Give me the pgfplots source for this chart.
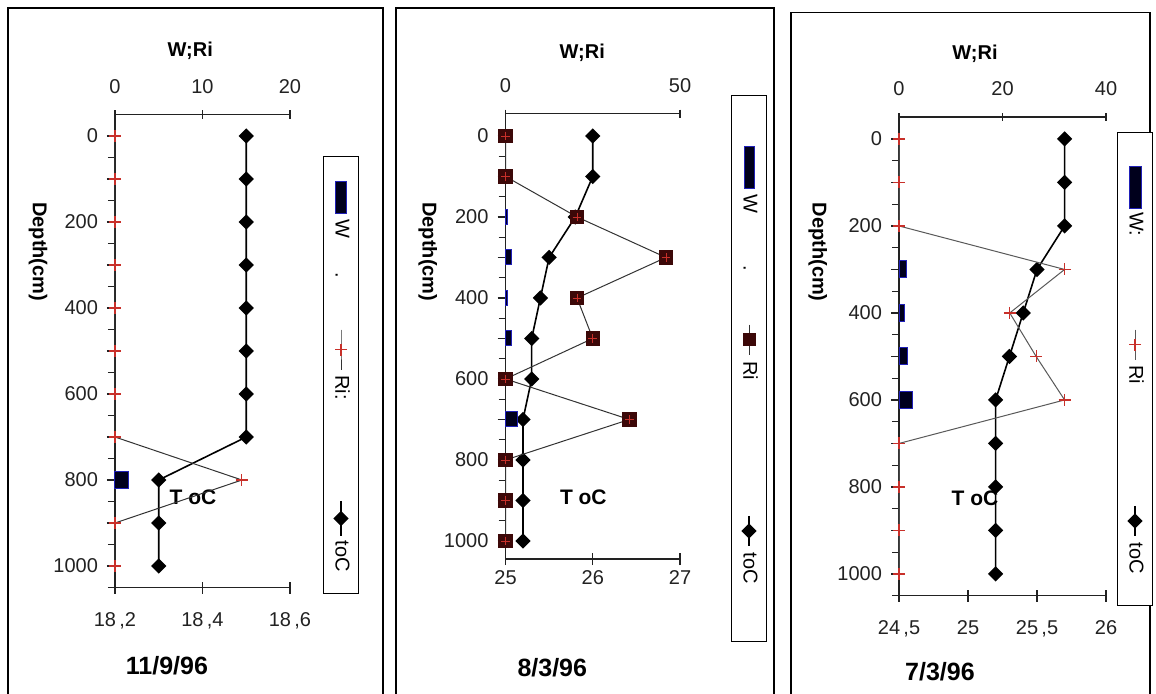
\documentclass[border=0pt]{standalone}
\usepackage{pgfplots}
\pgfplotsset{compat=1.18}
\usepackage{fontspec}
\setmainfont{Liberation Sans}
\definecolor{wfill}{HTML}{00001C}
\definecolor{wdraw}{HTML}{2020B8}
\definecolor{rired}{HTML}{C8302A}
\definecolor{sqfill}{HTML}{3C0808}
\definecolor{lgray}{HTML}{333333}
\definecolor{axc}{HTML}{222222}

\pgfplotsset{
  base/.style={
    scale only axis, y dir=reverse, clip=false,
    axis line style={-, line width=0.75pt, axc},
    /pgf/number format/assume math mode=true,
    tick label style={font=\fontsize{10}{12}\selectfont, text=axc},
    every tick/.style={axc, line width=0.6pt},
  },
  wri/.style={base,
    axis x line*=top, axis y line*=left,
    xtick align=center, ytick align=outside,
    major tick length=4pt, minor tick length=3.5pt,
    ytick={0,100,...,1000},
    yticklabels={0,,200,,400,,600,,800,,1000},
    minor ytick={50,150,...,1050},
    xticklabel style={yshift=5pt},
    yticklabel style={xshift=-1pt},
    ylabel={Depth(cm)},
    ylabel style={rotate=180, font=\bfseries\fontsize{10}{12}\selectfont, anchor=center},
    xlabel={W;Ri},
    xlabel style={font=\bfseries\fontsize{10}{12}\selectfont, anchor=center},
    legend columns=-1,
    legend cell align=left,
    legend style={draw=black, line width=0.6pt, inner ysep=4.4pt,
      nodes={inner sep=0pt}, font=\fontsize{10}{12}\selectfont},
  },
  tc/.style={base,
    axis x line*=bottom, axis y line=none,
    tick align=center, major tick length=6pt,
    xlabel={T oC},
    xlabel style={font=\bfseries\fontsize{10.5}{12}\selectfont, anchor=center},
  },
  linelegend/.style={legend image code/.code={\draw[mark repeat=2,mark phase=2] plot coordinates {(0pt,0pt) ({#1/2},0pt) (#1,0pt)};}},
  barlegend/.style 2 args={legend image code/.code={\draw[fill=wfill,draw=wdraw,line width=0.5pt] (0pt,{-#2/2}) rectangle (#1,{#2/2});}},
}

\begin{document}
\begin{tikzpicture}
\useasboundingbox (0pt,0pt) rectangle (578pt,-347pt);
\fill[white] (0pt,0pt) rectangle (578pt,-347pt);
% panel frames
\draw[line width=0.9pt, black] (4pt,-4pt) rectangle (191.5pt,-360pt);
\draw[line width=0.9pt, black] (198pt,-4pt) rectangle (387pt,-360pt);
\draw[line width=0.9pt, black] (395.5pt,-6.25pt) rectangle (575pt,-360pt);

% ================= temperature axes (bottom) =================
\begin{axis}[tc, at={(57.5pt,-57.25pt)}, anchor=north west,
  width=87.5pt, height=236.5pt, ymin=-50, ymax=1050,
  xmin=18.2, xmax=18.6, xtick={18.2,18.4,18.6},
  xticklabels={{18\,,2},{18\,,4},{18\,,6}},
  xticklabel style={yshift=-6pt},
  xlabel style={at={(axis description cs:0.446,0.19)}}]
\addplot[black, line width=0.8pt, mark=square*, mark size=2.3pt, mark options={rotate=45}]
  coordinates {(18.5,0)(18.5,100)(18.5,200)(18.5,300)(18.5,400)(18.5,500)(18.5,600)(18.5,700)(18.3,800)(18.3,900)(18.3,1000)};
\node[font=\bfseries\fontsize{12.5}{14}\selectfont] at (axis description cs:0.297,-0.166) {11/9/96};
\end{axis}

\begin{axis}[tc, at={(252.75pt,-56.85pt)}, anchor=north west,
  width=87.25pt, height=222.75pt, ymin=-55, ymax=1045,
  xmin=25, xmax=27, xtick={25,26,27},
  xticklabels={25,26,27},
  xticklabel style={yshift=1pt},
  xlabel style={at={(axis description cs:0.446,0.139)}}]
\addplot[black, line width=0.8pt, mark=square*, mark size=2.3pt, mark options={rotate=45}]
  coordinates {(26,0)(26,100)(25.8,200)(25.5,300)(25.4,400)(25.3,500)(25.3,600)(25.2,700)(25.2,800)(25.2,900)(25.2,1000)};
\node[font=\bfseries\fontsize{12.5}{14}\selectfont] at (axis description cs:0.268,-0.244) {8/3/96};
\end{axis}

\begin{axis}[tc, at={(449.5pt,-58.6pt)}, anchor=north west,
  width=103.5pt, height=239.25pt, ymin=-50, ymax=1050,
  xmin=24.5, xmax=26, xtick={24.5,25,25.5,26},
  xticklabels={{24\,,5},25,{25\,,5},26},
  xticklabel style={yshift=-6pt},
  xlabel style={at={(axis description cs:0.367,0.204)}}]
\addplot[black, line width=0.8pt, mark=square*, mark size=2.3pt, mark options={rotate=45}]
  coordinates {(25.7,0)(25.7,100)(25.7,200)(25.5,300)(25.4,400)(25.3,500)(25.2,600)(25.2,700)(25.2,800)(25.2,900)(25.2,1000)};
\node[font=\bfseries\fontsize{12.5}{14}\selectfont] at (axis description cs:0.198,-0.158) {7/3/96};
\end{axis}

% ================= W;Ri axes (top) =================
\begin{axis}[wri, at={(57.5pt,-57.25pt)}, anchor=north west,
  width=87.5pt, height=236.5pt, ymin=-50, ymax=1050,
  xmin=0, xmax=20, xtick={0,10,20},
  ylabel style={at={(axis description cs:-0.44,0.71)}},
  xlabel style={at={(axis description cs:0.43,1.135)}},
  legend to name=legA,
  legend style={inner xsep=12.5pt}]
\addplot[xbar, bar width=8.5pt, fill=wfill, draw=wdraw, line width=0.5pt, forget plot]
  coordinates {(1.5,800)};
\addplot[lgray, line width=0.5pt, mark=+, mark size=3pt, mark options={rired, line width=0.6pt}, forget plot]
  coordinates {(0,0)(0,100)(0,200)(0,300)(0,400)(0,500)(0,600)(0,700)(14.5,800)(0,900)(0,1000)};
\addlegendimage{barlegend={16pt}{5.5pt}}
\addlegendentry{\makebox[57.5pt][l]{\hspace{2.5pt}W\hspace{17pt}.}}
\addlegendimage{linelegend=20pt, lgray, line width=0.5pt, mark=+, mark size=3pt, mark options={rired, line width=0.6pt}}
\addlegendentry{\makebox[65pt][l]{\hspace{2.5pt}Ri:}}
\addlegendimage{linelegend=17.5pt, black, line width=0.8pt, mark=square*, mark size=2.3pt, mark options={rotate=45}}
\addlegendentry{\makebox[16pt][l]{\hspace{2pt}toC}}
\end{axis}

\begin{axis}[wri, at={(252.75pt,-56.85pt)}, anchor=north west,
  width=87.25pt, height=222.75pt, ymin=-55, ymax=1045,
  xmin=0, xmax=50, xtick={0,50},
  ylabel style={at={(axis description cs:-0.445,0.69)}},
  xlabel style={at={(axis description cs:0.44,1.137)}},
  legend to name=legB,
  legend style={inner xsep=25.5pt}]
\addplot[xbar, bar width=7.5pt, fill=wfill, draw=wdraw, line width=0.5pt, forget plot]
  coordinates {(0.5,200)(1.8,300)(0.7,400)(1.6,500)(3.3,700)};
\addplot[lgray, line width=0.5pt, mark=square*, mark size=3.3pt, mark options={fill=sqfill, draw=sqfill}, forget plot]
  coordinates {(0,0)(0,100)(20.5,200)(46,300)(20.5,400)(25,500)(0,600)(35.5,700)(0,800)(0,900)(0,1000)};
\addplot[only marks, mark=+, mark size=2.2pt, mark options={rired, line width=0.4pt}, forget plot]
  coordinates {(0,0)(0,100)(20.5,200)(46,300)(20.5,400)(25,500)(0,600)(35.5,700)(0,800)(0,900)(0,1000)};
\addlegendimage{barlegend={21pt}{5pt}}
\addlegendentry{\makebox[67.5pt][l]{\hspace{2.5pt}W\hspace{26pt}.}}
\addlegendimage{linelegend=15pt, lgray, line width=0.5pt, mark=square*, mark size=3pt, mark options={fill=sqfill, draw=sqfill}}
\addlegendentry{\makebox[80pt][l]{\hspace{3pt}Ri}}
\addlegendimage{linelegend=15pt, black, line width=0.8pt, mark=square*, mark size=2.3pt, mark options={rotate=45}}
\addlegendentry{\makebox[22pt][l]{\hspace{3pt}toC}}
\end{axis}

\begin{axis}[wri, at={(449.5pt,-58.6pt)}, anchor=north west,
  width=103.5pt, height=239.25pt, ymin=-50, ymax=1050,
  xmin=0, xmax=40, xtick={0,20,40},
  ylabel style={at={(axis description cs:-0.392,0.718)}},
  xlabel style={at={(axis description cs:0.367,1.133)}},
  legend to name=legC,
  legend style={inner xsep=17pt}]
\addplot[xbar, bar width=8.5pt, fill=wfill, draw=wdraw, line width=0.5pt, forget plot]
  coordinates {(1.4,300)(1.0,400)(1.7,500)(2.6,600)};
\addplot[black!65, line width=0.5pt, mark=+, mark size=3pt, mark options={rired, line width=0.6pt}, forget plot]
  coordinates {(0,0)(0,100)(0,200)(32,300)(21.4,400)(26.5,500)(32,600)(0,700)(0,800)(0,900)(0,1000)};
\addlegendimage{barlegend={21pt}{6pt}}
\addlegendentry{\makebox[60pt][l]{\hspace{1.5pt}W:}}
\addlegendimage{linelegend=15pt, black!65, line width=0.5pt, mark=+, mark size=3pt, mark options={rired, line width=0.6pt}}
\addlegendentry{\makebox[72.5pt][l]{\hspace{2.5pt}Ri}}
\addlegendimage{linelegend=15pt, black, line width=0.8pt, mark=square*, mark size=2.3pt, mark options={rotate=45}}
\addlegendentry{\makebox[17.5pt][l]{\hspace{3pt}toC}}
\end{axis}

% rotated legends (reading top to bottom)
\node[rotate=-90, inner sep=0pt] at (170.5pt,-187.5pt) {\pgfplotslegendfromname{legA}};
\node[rotate=-90, inner sep=0pt] at (374.5pt,-184.25pt) {\pgfplotslegendfromname{legB}};
\node[rotate=-90, inner sep=0pt] at (567.5pt,-184.5pt) {\pgfplotslegendfromname{legC}};
\end{tikzpicture}
\end{document}
